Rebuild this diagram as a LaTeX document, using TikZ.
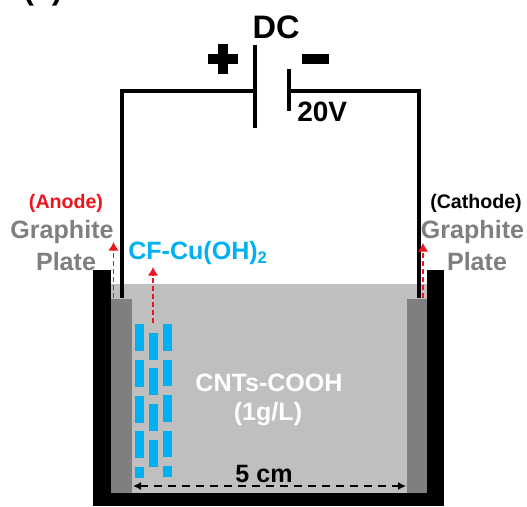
\documentclass[tikz,border=0pt]{standalone}
\usepackage{xcolor}
\usepackage{fontspec}
\setmainfont{Liberation Sans}
\usetikzlibrary{arrows.meta,calc,positioning}
\definecolor{bathgray}{RGB}{191,191,191}
\definecolor{plategray}{RGB}{127,127,127}
\definecolor{fiberblue}{RGB}{0,176,240}
\definecolor{anodered}{RGB}{238,20,30}
\tikzset{
  wire/.style={line width=2.3pt, line join=miter, black},
  cellplate/.style={line width=3pt, black},
  wall/.style={fill=black},
  bath/.style={fill=bathgray},
  graphite/.style={fill=plategray},
  fiber/.style={fill=fiberblue},
  riseArrow/.style={-{Latex[length=6.5pt,width=8pt]}, line width=1.1pt, anodered, dash pattern=on 3.5pt off 2.5pt},
  gapArrow/.style={{Latex[length=6pt,width=6pt]}-{Latex[length=6pt,width=6pt]}, line width=1pt, dash pattern=on 6pt off 4.5pt},
  lbl/.style={inner sep=0pt, font=\bfseries, align=center},
  big/.style={lbl, font=\fontsize{18.8pt}{22pt}\selectfont\bfseries},
  small/.style={lbl, font=\fontsize{14.7pt}{17pt}\selectfont\bfseries}
}
\begin{document}
\begin{tikzpicture}[x=0.75pt,y=-0.75pt]
  \useasboundingbox (0,0) rectangle (527,506);
  % panel letter, cut by the top edge
  \begin{scope}
    \clip (0,0) rectangle (527,506);
    \node[lbl, font=\fontsize{24pt}{28pt}\selectfont\bfseries] (panel) at (43,-9) {(a)};
  \end{scope}
  % bath and container
  \fill[bath] (110,284) rectangle (427,493);
  \fill[wall] (93,270) rectangle (110.5,493);
  \fill[wall] (427,270) rectangle (444,493);
  \fill[wall] (93,493) rectangle (444,506);
  \fill[graphite] (110.5,299) rectangle (132,493);
  \fill[graphite] (407,299) rectangle (427,493);
  % fibers, three staggered columns
  \foreach \k in {0,...,3}{%
    \fill[fiber] (135.3,{324.3+35.6*\k}) rectangle ++(9,27);
    \fill[fiber] (149.3,{332.7+35.6*\k}) rectangle ++(9,27);
    \fill[fiber] (162.7,{324+35.6*\k}) rectangle ++(9,26.5);
  }
  \fill[fiber] (135.3,467) rectangle (144.3,478);
  \fill[fiber] (162.7,466) rectangle (171.7,477);
  % battery
  \coordinate (plusTop) at (255,45);
  \coordinate (plusBot) at (255,128);
  \coordinate (plusMid) at (255,91);
  \coordinate (minusTop) at (289,69);
  \coordinate (minusBot) at (289,111);
  \coordinate (minusMid) at (289,91);
  \coordinate (anodeEnd) at (122,298);
  \coordinate (cathodeEnd) at (419,298);
  \draw[cellplate] (plusTop) -- (plusBot);
  \draw[cellplate] (minusTop) -- (minusBot);
  \draw[wire] (plusMid) -| (anodeEnd);
  \draw[wire] (minusMid) -| (cathodeEnd);
  \fill (207.7,54) rectangle (237.7,64);
  \fill (217.7,44) rectangle (227.7,74);
  \fill (302,54) rectangle (329,64);
  % arrows
  \coordinate (riseA) at (113.5,298);
  \coordinate (riseAtip) at (113.5,242);
  \coordinate (riseB) at (153,323);
  \coordinate (riseBtip) at (153,267);
  \coordinate (riseC) at (423,298);
  \coordinate (riseCtip) at (423,243);
  \coordinate (gapL) at (133,486);
  \coordinate (gapR) at (406,486);
  \draw[riseArrow] (riseA) -- (riseAtip);
  \draw[riseArrow] (riseB) -- (riseBtip);
  \draw[riseArrow] (riseC) -- (riseCtip);
  \draw[gapArrow] (gapL) -- (gapR);
  % labels
  \node[lbl, font=\fontsize{24.4pt}{28pt}\selectfont\bfseries] (dc) at (276,27) {DC};
  \node[lbl, font=\fontsize{21pt}{24pt}\selectfont\bfseries, anchor=base west] (volt) at (297,122) {20V};
  \node[small, text=anodered] (anode) at (66,203) {(Anode)};
  \node[big, text=plategray] (graphA) at (62,232) {Graphite};
  \node[big, text=plategray] (plateA) at (66,262) {Plate};
  \node[small] (cathode) at (476,203) {(Cathode)};
  \node[big, text=plategray] (graphC) at (472.5,232) {Graphite};
  \node[big, text=plategray] (plateC) at (477,262) {Plate};
  \node[big, text=fiberblue, anchor=base west] (cf) at (128,259) {CF-Cu(OH)\raisebox{-3pt}{\fontsize{12.5pt}{14pt}\selectfont 2}};
  \node[big, text=white] (cnt) at (269,383) {CNTs-COOH};
  \node[big, text=white] (conc) at (268,414) {(1g/L)};
  \node[big] (gap) at (264,474) {5 cm};
\end{tikzpicture}
\end{document}
